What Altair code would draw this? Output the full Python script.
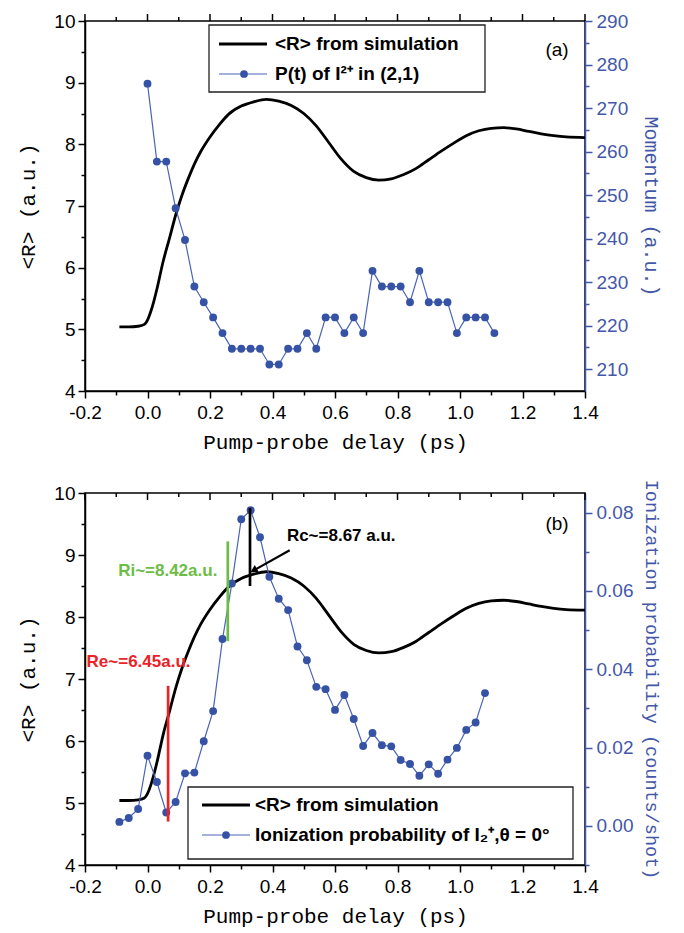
import altair as alt
import pandas as pd

# ---------------- data ----------------
# simulated <R>(t) curve (same in both panels)
t_sim = [-0.09, -0.06, -0.03, -0.01, 0.00, 0.01, 0.02, 0.03, 0.05, 0.07,
         0.09, 0.11, 0.13, 0.15, 0.17, 0.20, 0.23, 0.26, 0.30, 0.34,
         0.38, 0.42, 0.46, 0.50, 0.54, 0.58, 0.62, 0.66, 0.70, 0.74,
         0.78, 0.82, 0.86, 0.90, 0.94, 0.98, 1.02, 1.06, 1.10, 1.14,
         1.18, 1.22, 1.26, 1.30, 1.34, 1.40]
r_sim = [5.04, 5.04, 5.05, 5.08, 5.15, 5.28, 5.45, 5.65, 6.10, 6.47,
         6.85, 7.17, 7.44, 7.68, 7.88, 8.12, 8.32, 8.49, 8.62, 8.69,
         8.73, 8.70, 8.63, 8.50, 8.30, 8.03, 7.76, 7.56, 7.46, 7.42,
         7.44, 7.51, 7.61, 7.75, 7.89, 8.02, 8.14, 8.22, 8.26, 8.27,
         8.25, 8.21, 8.17, 8.14, 8.12, 8.11]

# panel (a): P(t) of I2+ in (2,1), momentum (a.u.)
t_a = [0.00, 0.03, 0.06, 0.09, 0.12, 0.15, 0.18, 0.21, 0.24, 0.27,
       0.30, 0.33, 0.36, 0.39, 0.42, 0.45, 0.48, 0.51, 0.54, 0.57,
       0.60, 0.63, 0.66, 0.69, 0.72, 0.75, 0.78, 0.81, 0.84, 0.87,
       0.90, 0.93, 0.96, 0.99, 1.02, 1.05, 1.08, 1.11]
mom_a = [275.6, 257.7, 257.7, 247.0, 239.7, 229.0, 225.4, 221.9, 218.3, 214.7,
         214.7, 214.7, 214.7, 211.1, 211.1, 214.7, 214.7, 218.3, 214.7, 221.9,
         221.9, 218.3, 221.9, 218.3, 232.6, 229.0, 229.0, 229.0, 225.4, 232.6,
         225.4, 225.4, 225.4, 218.3, 221.9, 221.9, 221.9, 218.3]

# panel (b): ionization probability (counts/shot)
t_b = [-0.09, -0.06, -0.03, 0.00, 0.03, 0.06, 0.09, 0.12, 0.15, 0.18,
       0.21, 0.24, 0.27, 0.30, 0.33, 0.36, 0.39, 0.42, 0.45, 0.48,
       0.51, 0.54, 0.57, 0.60, 0.63, 0.66, 0.69, 0.72, 0.75, 0.78,
       0.81, 0.84, 0.87, 0.90, 0.93, 0.96, 0.99, 1.02, 1.05, 1.08]
prob_b = [0.0010, 0.0020, 0.0043, 0.0179, 0.0112, 0.0034, 0.0061, 0.0134, 0.0136, 0.0216,
          0.0293, 0.0477, 0.0619, 0.0783, 0.0806, 0.0737, 0.0636, 0.0580, 0.0551, 0.0458,
          0.0423, 0.0355, 0.0349, 0.0296, 0.0334, 0.0273, 0.0204, 0.0237, 0.0206, 0.0203,
          0.0168, 0.0158, 0.0128, 0.0157, 0.0133, 0.0169, 0.0199, 0.0245, 0.0264, 0.0339]

# annotations in panel (b)
marker_labels = ["Re~=6.45a.u.", "Ri~=8.42a.u.", "Rc~=8.67 a.u."]
marker_x = [0.066, 0.257, 0.328]
marker_y1 = [4.70, 7.61, 8.50]
marker_y2 = [6.89, 9.22, 9.76]
label_x = [-0.195, -0.094, 0.446]
label_y = [7.27, 8.74, 9.31]
arrow_from = [0.455, 9.076]
arrow_to = [0.343, 8.76]

# tick values
x_ticks = [-0.2, -0.1, 0.0, 0.1, 0.2, 0.3, 0.4, 0.5, 0.6, 0.7, 0.8, 0.9,
           1.0, 1.1, 1.2, 1.3, 1.4]
x_major = [-0.2, 0.0, 0.2, 0.4, 0.6, 0.8, 1.0, 1.2, 1.4]
x_minor = [-0.1, 0.1, 0.3, 0.5, 0.7, 0.9, 1.1, 1.3]
r_ticks = [4, 4.5, 5, 5.5, 6, 6.5, 7, 7.5, 8, 8.5, 9, 9.5, 10]
mom_ticks = [210, 215, 220, 225, 230, 235, 240, 245, 250, 255, 260, 265,
             270, 275, 280, 285, 290]
prob_ticks = [-0.01, 0.0, 0.01, 0.02, 0.03, 0.04, 0.05, 0.06, 0.07, 0.08]

legend_a = ["<R> from simulation", "P(t) of I\u00b2\u207a in (2,1)"]
legend_b = ["<R> from simulation", "Ionization probability of I\u2082\u207a,\u03b8 = 0\u00b0"]

# ---------------- styles ----------------
FONT = "Liberation Sans"
TFONT = "Liberation Mono"
BLUE_DOT = "#3652a5"
BLUE_LINE = "#4a64b6"
BLUE_AXIS = "#4457a8"
marker_colors = ["#ec2227", "#6cbd45", "#000000"]
W = 500
HA = 370
HB = 372
MAJ = 7
MIN = 4

x_scale = alt.Scale(domain=[-0.2, 1.4], nice=False, zero=False)
r_scale = alt.Scale(domain=[4, 10], nice=False, zero=False)
mom_scale = alt.Scale(domain=[205, 290], nice=False, zero=False)
prob_scale = alt.Scale(domain=[-0.01, 0.085], nice=False, zero=False)


def tsize(test):
    return {"condition": {"test": test, "value": MAJ}, "value": MIN}


X_TEST = "abs(round(datum.value*10)) % 2 == 0"


def x_axis():
    return alt.Axis(
        values=x_ticks, title="Pump-probe delay (ps)", orient="bottom",
        labelExpr="(" + X_TEST + ") ? replace(format(datum.value, '.1f'), '\u2212', '-') : ''",
        tickSize=tsize(X_TEST), labelFlush=False, labelOverlap=False,
        labelPadding=5, titlePadding=9)


def X(field):
    return alt.X(field, scale=x_scale, axis=x_axis())


R_TEST = "datum.value % 1 == 0"


def left_axis():
    return alt.Axis(
        values=r_ticks, orient="left", title="<R> (a.u.)",
        labelExpr="(" + R_TEST + ") ? format(datum.value, 'd') : ''",
        tickSize=tsize(R_TEST), labelOverlap=False, labelPadding=3,
        titlePadding=15, labelFlush=False)


M_TEST = "round(datum.value) % 10 == 0"
right_a_axis = alt.Axis(
    values=mom_ticks, orient="right", title="Momentum (a.u.)",
    labelExpr="(" + M_TEST + ") ? format(datum.value, 'd') : ''",
    tickSize=tsize(M_TEST), labelOverlap=False, labelPadding=4, labelFlush=False,
    titlePadding=13, titleFontSize=20,
    domainColor=BLUE_AXIS, tickColor=BLUE_AXIS, labelColor=BLUE_AXIS, titleColor=BLUE_AXIS)

P_TEST = "abs(round(datum.value*100)) % 2 == 0"
right_b_axis = alt.Axis(
    values=prob_ticks, orient="right", title="Ionization probability (counts/shot)",
    labelExpr="(" + P_TEST + ") ? format(datum.value, '.2f') : ''",
    tickSize=tsize(P_TEST), labelOverlap=False, labelPadding=4, labelFlush=False,
    titlePadding=9, titleFontSize=18.5,
    domainColor=BLUE_AXIS, tickColor=BLUE_AXIS, labelColor=BLUE_AXIS, titleColor=BLUE_AXIS)

sim_df = pd.DataFrame({"t": t_sim, "R": r_sim})
a_df = pd.DataFrame({"t": t_a, "p": mom_a})
b_df = pd.DataFrame({"t": t_b, "p": prob_b})
one = pd.DataFrame({"k": [0]})
major_df = pd.DataFrame({"t": x_major})
minor_df = pd.DataFrame({"t": x_minor})


def r_curve():
    return alt.Chart(sim_df).mark_line(color="black", strokeWidth=2.8, interpolate="monotone").encode(
        x=X("t:Q"),
        y=alt.Y("R:Q", scale=r_scale, axis=left_axis()))


def top_ticks(sign):
    maj = alt.Chart(major_df).mark_rule(color="black", strokeWidth=1.5).encode(
        x=X("t:Q"), y=alt.value(0), y2=alt.value(sign * MAJ))
    mnr = alt.Chart(minor_df).mark_rule(color="black", strokeWidth=1.5).encode(
        x=X("t:Q"), y=alt.value(0), y2=alt.value(sign * MIN))
    return [maj, mnr]


def legend(box, row_y, line_x, dot_x, text_x, labels):
    parts = [
        alt.Chart(one).mark_rect(fill="white", stroke="#222222", strokeWidth=1.3).encode(
            x=alt.value(box[0]), x2=alt.value(box[1]), y=alt.value(box[2]), y2=alt.value(box[3])),
        alt.Chart(one).mark_rule(color="black", strokeWidth=3).encode(
            x=alt.value(line_x[0]), x2=alt.value(line_x[1]), y=alt.value(row_y[0])),
        alt.Chart(one).mark_rule(color=BLUE_LINE, strokeWidth=1.2).encode(
            x=alt.value(line_x[0]), x2=alt.value(line_x[1]), y=alt.value(row_y[1])),
        alt.Chart(one).mark_circle(color=BLUE_DOT, size=60, opacity=1).encode(
            x=alt.value(dot_x), y=alt.value(row_y[1])),
    ]
    for lab, yy in zip(labels, row_y):
        parts.append(alt.Chart(one).mark_text(
            align="left", baseline="middle", font=FONT, fontWeight="bold", fontSize=19,
            color="black").encode(x=alt.value(text_x), y=alt.value(yy), text=alt.value(lab)))
    return parts


# ---------------- panel (a) ----------------
a_line = alt.Chart(a_df).mark_line(color=BLUE_LINE, strokeWidth=1.2).encode(
    x=X("t:Q"),
    y=alt.Y("p:Q", scale=mom_scale, axis=right_a_axis))
a_pts = alt.Chart(a_df).mark_circle(color=BLUE_DOT, size=62, opacity=1).encode(
    x=X("t:Q"),
    y=alt.Y("p:Q", scale=mom_scale, axis=None))
a_tag = alt.Chart(one).mark_text(font=FONT, fontSize=19, color="black").encode(
    x=alt.value(472), y=alt.value(29), text=alt.value("(a)"))

panel_a = alt.layer(
    r_curve(), a_line, a_pts, *top_ticks(-1),
    *legend([124, 400, 4, 71], [23, 53], [134, 182], 159, 190, legend_a),
    a_tag
).resolve_scale(y="independent").properties(width=W, height=HA)

# ---------------- panel (b) ----------------
mk_df = pd.DataFrame({"label": marker_labels, "t": marker_x, "y1": marker_y1, "y2": marker_y2,
                      "lx": label_x, "ly": label_y})
arrow_df = pd.DataFrame({"x0": [arrow_from[0]], "y0": [arrow_from[1]],
                         "x1": [arrow_to[0]], "y1": [arrow_to[1]]})
mcolor = alt.Color("label:N", scale=alt.Scale(domain=marker_labels, range=marker_colors), legend=None)

b_line = alt.Chart(b_df).mark_line(color=BLUE_LINE, strokeWidth=1.2).encode(
    x=X("t:Q"),
    y=alt.Y("p:Q", scale=prob_scale, axis=right_b_axis))
b_pts = alt.Chart(b_df).mark_circle(color=BLUE_DOT, size=62, opacity=1).encode(
    x=X("t:Q"),
    y=alt.Y("p:Q", scale=prob_scale, axis=None))
b_rules = alt.Chart(mk_df).mark_rule(strokeWidth=2.7).encode(
    x=X("t:Q"),
    y=alt.Y("y1:Q", scale=r_scale, axis=None), y2="y2:Q", color=mcolor)
b_text = alt.Chart(mk_df).mark_text(align="left", baseline="middle", font=FONT,
                                    fontWeight="bold", fontSize=17).encode(
    x=X("lx:Q"),
    y=alt.Y("ly:Q", scale=r_scale, axis=None), text="label:N", color=mcolor)
b_arrow = alt.Chart(arrow_df).mark_rule(color="black", strokeWidth=2.2).encode(
    x=X("x0:Q"), x2="x1:Q",
    y=alt.Y("y0:Q", scale=r_scale, axis=None), y2="y1:Q")
b_head = alt.Chart(arrow_df).mark_point(shape="triangle", filled=True, color="black",
                                        size=70, angle=241, opacity=1).encode(
    x=X("x1:Q"),
    y=alt.Y("y1:Q", scale=r_scale, axis=None))
b_tag = alt.Chart(one).mark_text(font=FONT, fontSize=19, color="black").encode(
    x=alt.value(472), y=alt.value(31), text=alt.value("(b)"))

panel_b = alt.layer(
    r_curve(), b_line, b_pts, b_rules, b_text, b_arrow, b_head, *top_ticks(1),
    *legend([103, 488, 294, 366], [312, 342], [117, 165], 141, 170, legend_b),
    b_tag
).resolve_scale(y="independent").properties(width=W, height=HB)

chart = alt.vconcat(panel_a, panel_b, spacing=25).properties(
    padding={"left": 17, "top": 11, "right": 0, "bottom": 0},
    background="white"
).configure_view(stroke="black", strokeWidth=1.5).configure_axis(
    labelFont=FONT, labelFontSize=19, titleFont=TFONT, titleFontSize=21,
    titleFontWeight="normal", domainWidth=1.5, tickWidth=1.5, grid=False,
    labelColor="black", titleColor="black", domainColor="black", tickColor="black"
)

chart.save("out.html", embed_options={"renderer": "svg", "actions": False})
